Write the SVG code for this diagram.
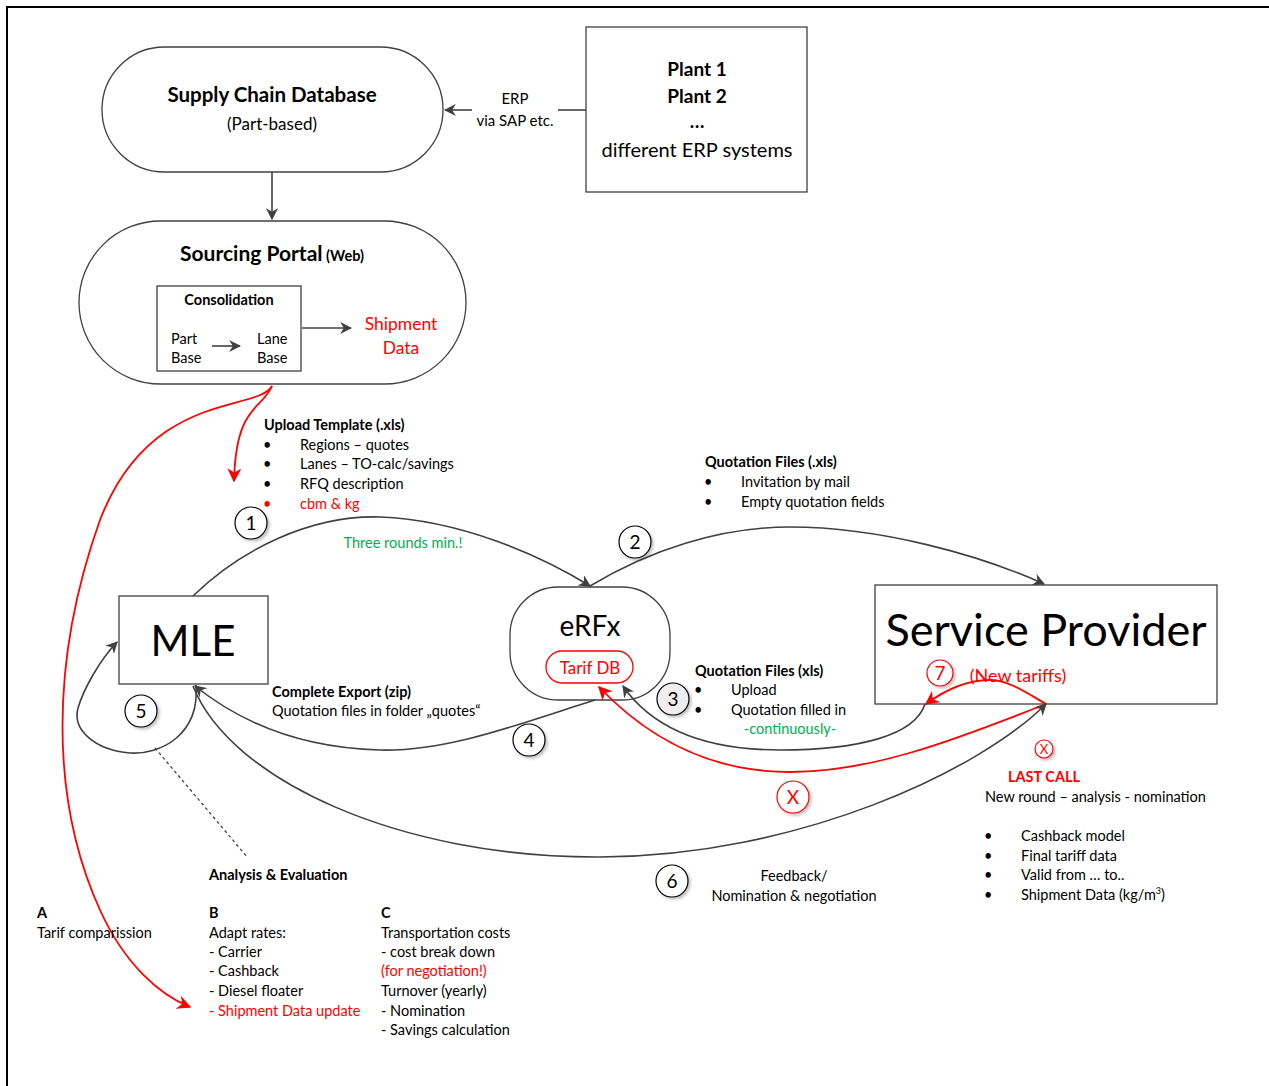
<svg xmlns="http://www.w3.org/2000/svg" width="1269" height="1086" viewBox="0 0 1269 1086">
<defs>
<marker id="ag" viewBox="0 0 10 10" refX="9" refY="5" markerWidth="12" markerHeight="12" markerUnits="userSpaceOnUse" orient="auto"><path d="M0,0 L10,5 L0,10 L3,5 z" fill="#404040"/></marker>
<marker id="ar" viewBox="0 0 10 10" refX="9" refY="5" markerWidth="14" markerHeight="14" markerUnits="userSpaceOnUse" orient="auto"><path d="M0,0 L10,5 L0,10 L3,5 z" fill="#ff0000"/></marker>
<filter id="sh" x="-30%" y="-30%" width="160%" height="160%"><feDropShadow dx="2" dy="2" stdDeviation="1.5" flood-color="#000" flood-opacity="0.25"/></filter>
</defs>
<style>
text{font-family:Lato,"Liberation Sans",sans-serif;fill:#000}
.b{font-weight:bold}
.s{font-size:14.5px}
.r{fill:#ff0000}
.g{fill:#00b050}
.m{text-anchor:middle}
.node{fill:#fff;stroke:#404040;stroke-width:1.3}
.c{fill:none;stroke:#404040;stroke-width:1.6}
.cr{fill:none;stroke:#ff0000;stroke-width:1.8}
.num{fill:#fff;stroke:#000;stroke-width:1.2;filter:url(#sh)}
.numr{fill:#fff;stroke:#ff0000;stroke-width:1.2;filter:url(#sh)}
</style>
<rect width="1269" height="1086" fill="#fff"/>
<path d="M7,1086 V7 H1269" fill="none" stroke="#000" stroke-width="2"/>

<g id="scd">
<rect class="node" x="102" y="47" width="341" height="125" rx="62.5"/>
<text class="b m" x="272" y="102" font-size="20.5">Supply Chain Database</text>
<text class="m" x="272" y="130" font-size="17">(Part-based)</text>
</g>
<g id="plants">
<rect class="node" x="586" y="27" width="221" height="165"/>
<text class="b m" x="697" y="76" font-size="19">Plant 1</text>
<text class="b m" x="697" y="103" font-size="19">Plant 2</text>
<text class="b m" x="697" y="128" font-size="19">…</text>
<text class="m" x="697" y="157" font-size="20">different ERP systems</text>
</g>
<g id="portal">
<rect class="node" x="79" y="221" width="387" height="163" rx="81.5"/>
<text class="b m" x="272" y="261"><tspan font-size="21">Sourcing Portal</tspan><tspan font-size="14.5"> (Web)</tspan></text>
</g>
<g id="consolidation">
<rect class="node" x="157" y="286" width="144" height="85"/>
<text class="b m s" x="229" y="305">Consolidation</text>
<text class="s" x="171" y="344">Part</text>
<text class="s" x="171" y="363">Base</text>
<text class="s" x="257" y="344">Lane</text>
<text class="s" x="257" y="363">Base</text>
</g>
<g id="mle">
<rect class="node" x="119" y="596" width="149" height="88"/>
<text class="m" x="193" y="656" font-size="42">MLE</text>
</g>
<g id="erfx">
<rect class="node" x="510" y="587" width="160" height="113" rx="48"/>
<text class="m" x="590" y="636" font-size="28">eRFx</text>
<rect x="546" y="651" width="87" height="32" rx="16" fill="#fff" stroke="#ff0000" stroke-width="1.3"/>
<text class="m r" x="590" y="674" font-size="17">Tarif DB</text>
</g>
<g id="sp">
<rect class="node" x="875" y="585" width="342" height="119"/>
<text class="m" x="1046" y="646" font-size="45">Service Provider</text>
<text class="m r" x="1018" y="682" font-size="18">(New tariffs)</text>
</g>

<g id="connectors">
<path class="c" d="M586,110 H558"/>
<path class="c" d="M472,110 H445" marker-end="url(#ag)"/>
<path class="c" d="M272,172 V219" marker-end="url(#ag)"/>
<path class="c" d="M212,346 H240" marker-end="url(#ag)"/>
<path class="c" d="M302,328 H351" marker-end="url(#ag)"/>
<path class="cr" d="M272,386 C262,410 236,404 234,481" marker-end="url(#ar)"/>
<path class="cr" d="M272,386 C258,412 150,390 100,520 C50,660 50,800 100,910 C125,965 160,995 190,1007" marker-end="url(#ar)"/>
<path class="c" d="M193,596 C240,550 310,515 380,517 C460,520 540,555 590,586" marker-end="url(#ag)"/>
<path class="c" d="M590,586 C650,550 720,527 790,527 C880,527 980,555 1044,584" marker-end="url(#ag)"/>
<path class="c" d="M925,704 C915,735 860,750 780,750 C700,750 650,725 623,686" marker-end="url(#ag)"/>
<path class="cr" d="M1046,704 C1025,692 1008,680 990,680 C965,680 945,690 926,704" marker-end="url(#ar)"/>
<path class="cr" d="M1046,704 C950,742 870,772 790,772 C700,772 640,730 599,687" marker-end="url(#ar)"/>
<path class="c" d="M193,686 C230,780 400,858 600,857 C800,856 980,770 1046,704" marker-end="url(#ag)"/>
<path class="c" d="M595,700 C530,720 450,752 380,750 C300,748 240,722 195,686" marker-end="url(#ag)"/>
<path class="c" d="M196,685 C200,735 160,755 130,753 C95,750 72,730 78,708 C84,688 100,660 117,642" marker-end="url(#ag)"/>
<path d="M155,748 L248,858" fill="none" stroke="#404040" stroke-width="1.3" stroke-dasharray="3,3"/>
</g>

<g id="n1"><circle class="num" cx="251" cy="523" r="16"/><text class="m" x="251" y="530" font-size="19">1</text></g>
<g id="n2"><circle class="num" cx="635" cy="542" r="16"/><text class="m" x="635" y="549" font-size="19">2</text></g>
<g id="n3"><circle class="num" cx="673" cy="699" r="16" style="fill:#eeeeee"/><text class="m" x="673" y="706" font-size="19">3</text></g>
<g id="n4"><circle class="num" cx="529" cy="740" r="16"/><text class="m" x="529" y="747" font-size="19">4</text></g>
<g id="n5"><circle class="num" cx="141" cy="711" r="16"/><text class="m" x="141" y="718" font-size="19">5</text></g>
<g id="n6"><circle class="num" cx="672" cy="881" r="16"/><text class="m" x="672" y="888" font-size="19">6</text></g>
<g id="n7"><circle class="numr" cx="940" cy="673" r="13"/><text class="m r" x="940" y="680" font-size="19">7</text></g>
<g id="nx"><circle class="numr" cx="793" cy="797" r="16"/><text class="m r" x="793" y="804" font-size="19">X</text></g>
<g id="nx2"><circle class="numr" cx="1044" cy="749" r="9"/><text class="m r" x="1044" y="754" font-size="13">X</text></g>

<g id="erp-label">
<text class="m" x="515" y="104" font-size="15">ERP</text>
<text class="m" x="515" y="126" font-size="15">via SAP etc.</text>
</g>
<g id="shipment">
<text class="r m" x="401" y="330" font-size="17.5">Shipment</text>
<text class="r m" x="401" y="354" font-size="17.5">Data</text>
</g>
<g id="upload-label">
<text class="b s" x="264" y="430">Upload Template (.xls)</text>
<text class="s" x="263" y="450">•</text><text class="s" x="300" y="450">Regions – quotes</text>
<text class="s" x="263" y="469">•</text><text class="s" x="300" y="469">Lanes – TO-calc/savings</text>
<text class="s" x="263" y="489">•</text><text class="s" x="300" y="489">RFQ description</text>
<text class="s r" x="263" y="509">•</text><text class="s r" x="300" y="509">cbm &amp; kg</text>
<text class="s g m" x="403" y="548">Three rounds min.!</text>
</g>
<g id="quote-label">
<text class="b s" x="705" y="467">Quotation Files (.xls)</text>
<text class="s" x="704" y="487">•</text><text class="s" x="741" y="487">Invitation by mail</text>
<text class="s" x="704" y="507">•</text><text class="s" x="741" y="507">Empty quotation fields</text>
</g>
<g id="quote2-label">
<text class="b s" x="695" y="676">Quotation Files (xls)</text>
<text class="s" x="694" y="695">•</text><text class="s" x="731" y="695">Upload</text>
<text class="s" x="694" y="715">•</text><text class="s" x="731" y="715">Quotation filled in</text>
<text class="s g m" x="790" y="734">-continuously-</text>
</g>
<g id="export-label">
<text class="b s" x="272" y="697">Complete Export (zip)</text>
<text class="s" x="272" y="716">Quotation files in folder „quotes“</text>
</g>
<g id="analysis">
<text class="b s" x="209" y="880">Analysis &amp; Evaluation</text>
<text class="b s" x="37" y="918">A</text>
<text class="s" x="37" y="938">Tarif comparission</text>
<text class="b s" x="209" y="918">B</text>
<text class="s" x="209" y="938">Adapt rates:</text>
<text class="s" x="209" y="957">- Carrier</text>
<text class="s" x="209" y="976">- Cashback</text>
<text class="s" x="209" y="996">- Diesel floater</text>
<text class="s r" x="209" y="1016">- Shipment Data update</text>
<text class="b s" x="381" y="918">C</text>
<text class="s" x="381" y="938">Transportation costs</text>
<text class="s" x="381" y="957">- cost break down</text>
<text class="s r" x="381" y="976">(for negotiation!)</text>
<text class="s" x="381" y="996">Turnover (yearly)</text>
<text class="s" x="381" y="1016">- Nomination</text>
<text class="s" x="381" y="1035">- Savings calculation</text>
</g>
<g id="feedback-label">
<text class="s m" x="794" y="881">Feedback/</text>
<text class="s m" x="794" y="901">Nomination  &amp; negotiation</text>
</g>
<g id="lastcall">
<text class="b s r m" x="1044" y="782">LAST CALL</text>
<text class="s" x="985" y="802">New round – analysis - nomination</text>
<text class="s" x="984" y="841">•</text><text class="s" x="1021" y="841">Cashback model</text>
<text class="s" x="984" y="861">•</text><text class="s" x="1021" y="861">Final tariff data</text>
<text class="s" x="984" y="880">•</text><text class="s" x="1021" y="880">Valid from … to..</text>
<text class="s" x="984" y="900">•</text><text class="s" x="1021" y="900">Shipment Data (kg/m<tspan font-size="9" dy="-6">3</tspan><tspan dy="6">)</tspan></text>
</g>
</svg>
